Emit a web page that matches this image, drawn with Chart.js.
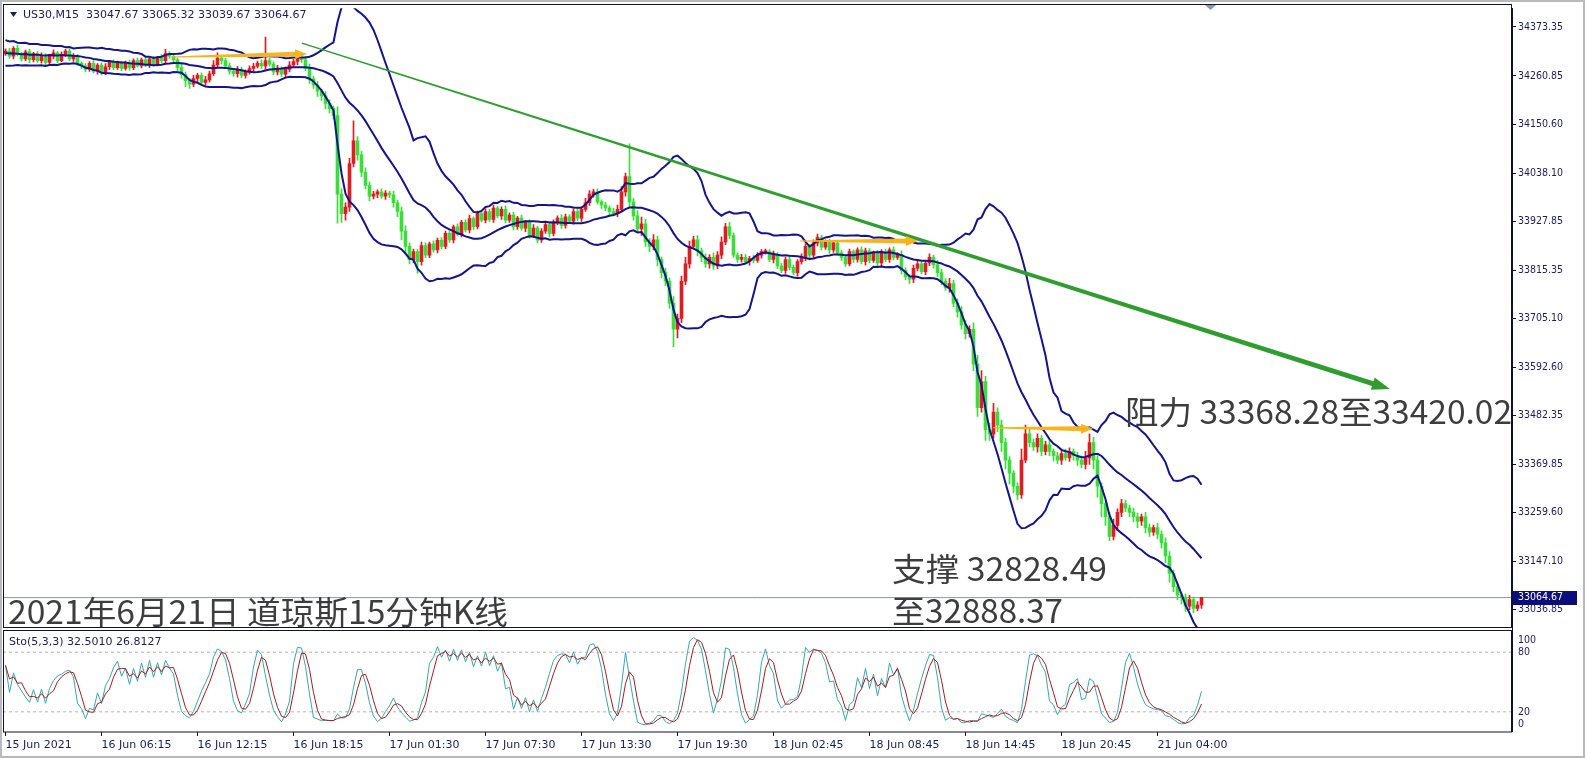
<!DOCTYPE html>
<html>
<head>
<meta charset="utf-8">
<script src="https://cdn.jsdelivr.net/npm/chart.js@4.4.1/dist/chart.umd.min.js"></script>
<style>
html, body { margin: 0; padding: 0; background: #fff; overflow: hidden; }
#box { position: relative; width: 1585px; height: 758px; }
</style>
</head>
<body>
<div id="box"><canvas id="chart" width="1585" height="758"></canvas></div>
<script>
// time axis: bar index of each label (M15 bars, 24 bars between labels)
const timeTicks = [0, 24, 48, 72, 96, 120, 144, 168, 192, 216, 240, 264, 288]
const timeLabels = ['15 Jun 2021', '16 Jun 06:15', '16 Jun 12:15', '16 Jun 18:15', '17 Jun 01:30', '17 Jun 07:30',
    '17 Jun 13:30', '17 Jun 19:30', '18 Jun 02:45', '18 Jun 08:45', '18 Jun 14:45', '18 Jun 20:45', '21 Jun 04:00']

// price axis labels as printed by the terminal
const priceTicks = [34373.35, 34260.85, 34150.60, 34038.10, 33927.85, 33815.35, 33705.10,
    33592.60, 33482.35, 33369.85, 33259.60, 33147.10, 33036.85]

// closes of the 19 bars before the visible window (band warm-up only)
const preCloses = [34335, 34310, 34338, 34318, 34302, 34332, 34312, 34296, 34328, 34306,
    34290, 34326, 34300, 34292, 34330, 34304, 34326, 34298, 34312]

// US30 M15 closes (300 bars)
const closes = [
    34318, 34306, 34324, 34310, 34300, 34316, 34298, 34312, 34296, 34308,
    34292, 34306, 34314, 34296, 34310, 34318, 34300, 34306, 34290, 34284,
    34276, 34290, 34272, 34286, 34268, 34282, 34292, 34280, 34290, 34278,
    34292, 34280, 34296, 34284, 34298, 34286, 34300, 34288, 34302, 34296,
    34312, 34306, 34298, 34280, 34264, 34250, 34242, 34255, 34262, 34246,
    34252, 34266, 34286, 34302, 34296, 34284, 34272, 34266, 34275, 34262,
    34270, 34278, 34283, 34290, 34284, 34296, 34288, 34270, 34278, 34265,
    34276, 34286, 34294, 34302, 34298, 34278, 34254, 34240, 34226, 34215,
    34198, 34186, 34170, 33990, 33945, 33960, 34060, 34112, 34080, 34040,
    34010, 33985, 33990, 33995, 33985, 33992, 33988, 33970, 33950, 33905,
    33870, 33840, 33858, 33835, 33872, 33850, 33876, 33862, 33884, 33870,
    33900, 33885, 33915, 33898, 33925, 33908, 33934, 33915, 33945, 33930,
    33950, 33932, 33958, 33940, 33955, 33930, 33942, 33915, 33935, 33912,
    33925, 33895, 33912, 33885, 33905, 33920, 33900, 33925, 33935, 33918,
    33938, 33928, 33950, 33935, 33955, 33970, 33990, 33995, 33972, 33965,
    33958, 33950, 33945, 33955, 33995, 34030, 33972, 33940, 33910, 33922,
    33880, 33870, 33885, 33840, 33810, 33790, 33740, 33680, 33705, 33790,
    33830, 33870, 33885, 33860, 33845, 33830, 33845, 33825, 33850, 33880,
    33915, 33895, 33850, 33840, 33845, 33835, 33842, 33838, 33850, 33858,
    33858, 33840, 33852, 33825, 33815, 33840, 33822, 33810, 33835, 33845,
    33870, 33850, 33878, 33890, 33868, 33880, 33862, 33878, 33855, 33845,
    33830, 33858, 33840, 33862, 33835, 33860, 33838, 33855, 33832, 33858,
    33840, 33862, 33845, 33852, 33815, 33800, 33795, 33820, 33830, 33812,
    33832, 33845, 33828, 33810, 33790, 33775, 33785, 33740, 33720, 33690,
    33670, 33680, 33600, 33500, 33560, 33450, 33440, 33490, 33460, 33420,
    33380, 33350, 33320, 33300, 33380, 33440, 33420, 33410, 33430, 33400,
    33415, 33400, 33390, 33380, 33395, 33385, 33400, 33390, 33380, 33370,
    33385, 33420, 33380, 33320, 33280, 33250, 33205, 33230, 33260, 33280,
    33270, 33260, 33250, 33240, 33250, 33225, 33215, 33225, 33210, 33190,
    33160, 33120, 33090, 33070, 33065, 33045, 33060, 33040, 33047.67, 33064.67,
]

// upper / lower shadow length of each bar, in points
const upWick = [
    5, 6, 4, 7, 5, 4, 6, 3, 5, 6,
    4, 5, 7, 3, 6, 4, 5, 6, 4, 3,
    5, 4, 6, 3, 5, 7, 4, 6, 5, 4,
    3, 5, 4, 6, 4, 5, 3, 6, 4, 8,
    10, 5, 6, 4, 8, 6, 5, 7, 5, 6,
    8, 6, 10, 12, 6, 5, 7, 4, 8, 6,
    5, 6, 7, 5, 8, 54, 6, 5, 7, 4,
    6, 8, 5, 7, 6, 8, 10, 6, 8, 5,
    10, 8, 6, 20, 12, 10, 12, 46, 10, 8,
    10, 8, 6, 5, 7, 6, 5, 8, 6, 10,
    12, 8, 6, 5, 8, 6, 4, 7, 5, 6,
    5, 6, 4, 7, 5, 6, 8, 4, 6, 5,
    6, 5, 7, 4, 6, 8, 5, 6, 4, 7,
    5, 6, 8, 4, 6, 5, 7, 6, 5, 8,
    6, 5, 7, 8, 6, 10, 8, 6, 7, 5,
    6, 5, 8, 10, 12, 8, 75, 8, 12, 15,
    10, 8, 12, 8, 6, 10, 8, 15, 10, 12,
    15, 12, 8, 10, 6, 8, 6, 10, 8, 12,
    8, 10, 6, 5, 7, 6, 5, 8, 6, 5,
    6, 5, 7, 4, 6, 5, 7, 6, 5, 8,
    6, 5, 7, 8, 6, 5, 7, 6, 5, 6,
    5, 6, 4, 5, 7, 6, 5, 4, 6, 5,
    6, 5, 7, 4, 8, 6, 5, 7, 6, 5,
    6, 8, 5, 10, 8, 6, 12, 8, 10, 12,
    10, 8, 15, 20, 25, 12, 15, 20, 10, 12,
    10, 8, 6, 8, 25, 20, 12, 8, 10, 6,
    8, 10, 6, 8, 6, 10, 8, 6, 8, 10,
    15, 20, 12, 10, 8, 6, 10, 15, 8, 10,
    8, 6, 10, 8, 6, 10, 8, 6, 10, 8,
    12, 10, 8, 6, 5, 8, 10, 6, 8, 0.65,
]
const downWick = [
    4, 5, 6, 3, 5, 4, 7, 5, 4, 6,
    5, 4, 6, 5, 3, 5, 4, 6, 5, 7,
    6, 5, 4, 7, 5, 4, 6, 5, 4, 5,
    4, 6, 5, 3, 5, 4, 6, 5, 4, 5,
    6, 5, 8, 10, 8, 14, 10, 6, 8, 7,
    6, 5, 4, 6, 8, 5, 7, 6, 8, 5,
    6, 5, 7, 4, 6, 8, 5, 6, 7, 5,
    8, 6, 5, 7, 6, 5, 10, 8, 12, 10,
    12, 10, 8, 67, 20, 15, 10, 8, 12, 10,
    8, 10, 6, 8, 5, 7, 6, 10, 12, 20,
    15, 10, 8, 27, 8, 6, 6, 5, 7, 6,
    5, 6, 7, 4, 6, 5, 7, 6, 5, 4,
    6, 5, 7, 4, 8, 6, 5, 7, 6, 5,
    8, 6, 5, 7, 6, 5, 8, 6, 5, 7,
    6, 5, 7, 6, 8, 5, 6, 7, 5, 8,
    6, 8, 5, 7, 6, 10, 12, 10, 8, 15,
    10, 12, 8, 15, 12, 10, 12, 40, 20, 10,
    8, 10, 6, 12, 10, 8, 10, 8, 6, 8,
    6, 8, 5, 7, 6, 5, 8, 6, 5, 7,
    6, 5, 8, 6, 5, 7, 6, 5, 8, 6,
    8, 6, 5, 7, 6, 5, 8, 6, 5, 7,
    6, 5, 7, 6, 5, 8, 6, 5, 7, 6,
    5, 7, 6, 5, 8, 6, 10, 8, 6, 5,
    7, 6, 8, 10, 8, 6, 10, 8, 12, 10,
    12, 8, 15, 20, 10, 25, 15, 10, 15, 20,
    20, 25, 15, 10, 8, 6, 10, 8, 12, 10,
    8, 10, 12, 8, 10, 6, 8, 10, 12, 8,
    10, 15, 20, 25, 30, 20, 10, 8, 12, 10,
    8, 10, 12, 15, 10, 12, 10, 8, 10, 12,
    15, 20, 12, 10, 15, 12, 8, 10, 6, 8,
]

const lastPrice = 33064.67
const stochLevels = [80, 20]
const stochLabels = [100, 80, 20, 0]

// hand-drawn objects, in [bar index, price]
const trendArrow = [[74.1, 34336.2], [346.1, 33542.9]]
const orangeArrows = [
    [[41.6, 34304.3], [75.4, 34311.1]],
    [[198.6, 33882.6], [228.1, 33882.6]],
    [[246.9, 33454.0], [271.9, 33451.7]],
]

// ---- derived series ----
const opens = closes.map((c, i) => i === 0 ? preCloses[preCloses.length - 1] : closes[i - 1])
const highs = closes.map((c, i) => Math.max(opens[i], c) + upWick[i])
const lows = closes.map((c, i) => Math.min(opens[i], c) - downWick[i])

const BULL = '#de1c22'
const BEAR = '#3cdc3c'
const candleColors = closes.map((c, i) => c >= opens[i] ? BULL : BEAR)

// Bollinger(20, 2) on close
const allCloses = preCloses.concat(closes)
let bbMid = [], bbUp = [], bbLo = []
closes.forEach((c, i) => {
    let win = allCloses.slice(i, i + 20)
    let m = win.reduce((a, b) => a + b, 0) / win.length
    let sd = Math.sqrt(win.reduce((a, b) => a + (b - m) * (b - m), 0) / win.length)
    bbMid.push({x: i, y: m})
    bbUp.push({x: i, y: m + 2 * sd})
    bbLo.push({x: i, y: m - 2 * sd})
})

// Stochastic(5,3,3), terminal style slowing
let stK = [], stD = []
closes.forEach((c, i) => {
    let num = 0, den = 0
    for (let j = Math.max(0, i - 2); j <= i; j++) {
        let a = Math.max(0, j - 4)
        let hh = Math.max(...highs.slice(a, j + 1))
        let ll = Math.min(...lows.slice(a, j + 1))
        num += closes[j] - ll
        den += hh - ll
    }
    stK.push(den ? num / den * 100 : 50)
})
stK.forEach((k, i) => {
    let w = stK.slice(Math.max(0, i - 2), i + 1)
    stD.push(w.reduce((a, b) => a + b, 0) / w.length)
})

const X_MIN = -0.625
const X_MAX = 376.625

const axisFont = {family: "'DejaVu Sans Condensed', 'Liberation Sans', sans-serif", size: 10.5}
const labelFont = "11px 'DejaVu Sans', sans-serif"
const NAVY_TEXT = '#1b1b5e'

function taperArrow(ctx, x0, y0, x1, y1, w0, w1, headL, headW, color) {
    const dx = x1 - x0, dy = y1 - y0, len = Math.hypot(dx, dy)
    const ux = dx / len, uy = dy / len, nx = -uy, ny = ux
    const bx = x1 - ux * headL, by = y1 - uy * headL
    ctx.beginPath()
    ctx.moveTo(x0 + nx * w0 / 2, y0 + ny * w0 / 2)
    ctx.lineTo(bx + nx * w1 / 2, by + ny * w1 / 2)
    ctx.lineTo(bx + nx * headW / 2, by + ny * headW / 2)
    ctx.lineTo(x1, y1)
    ctx.lineTo(bx - nx * headW / 2, by - ny * headW / 2)
    ctx.lineTo(bx - nx * w1 / 2, by - ny * w1 / 2)
    ctx.lineTo(x0 - nx * w0 / 2, y0 - ny * w0 / 2)
    ctx.closePath()
    ctx.fillStyle = color
    ctx.fill()
}

function fitText(ctx, text, x, y, width) {
    let w = ctx.measureText(text).width
    ctx.save()
    ctx.translate(x, y)
    ctx.scale(width / w, 1)
    ctx.fillText(text, 0, 0)
    ctx.restore()
}

const drawings = {
    id: 'drawings',
    afterDatasetsDraw(chart) {
        const ctx = chart.ctx
        const xs = chart.scales.x, ys = chart.scales.y
        const px = p => [xs.getPixelForValue(p[0]), ys.getPixelForValue(p[1])]
        ctx.save()
        let [a0, a1] = [px(trendArrow[0]), px(trendArrow[1])]
        taperArrow(ctx, a0[0], a0[1], a1[0], a1[1], 1.4, 5, 18, 13, '#2f9e2f')
        orangeArrows.forEach(([s, e]) => {
            let [p0, p1] = [px(s), px(e)]
            taperArrow(ctx, p0[0], p0[1], p1[0], p1[1], 1, 5, 12, 10, '#f8b41c')
        })
        ctx.restore()
    },
    afterDraw(chart) {
        const ctx = chart.ctx
        const area = chart.chartArea
        const ys = chart.scales.y, yst = chart.scales.ys
        ctx.save()

        // gap between the two panels
        ctx.fillStyle = '#fff'
        ctx.fillRect(area.left, 628, area.right - area.left, 3)

        // panel frames
        ctx.strokeStyle = '#101030'
        ctx.lineWidth = 1
        ctx.strokeRect(3.5, 4.5, area.right - 4, 623)
        ctx.strokeRect(3.5, 630.5, area.right - 4, 101.5)

        // window frame
        ctx.strokeStyle = '#b9b9b9'
        ctx.lineWidth = 2
        ctx.strokeRect(1, 1, 1583, 756)

        // header
        ctx.fillStyle = NAVY_TEXT
        ctx.beginPath()
        ctx.moveTo(10, 12); ctx.lineTo(17, 12); ctx.lineTo(13.5, 17); ctx.closePath()
        ctx.fill()
        ctx.font = labelFont
        ctx.textBaseline = 'middle'
        ctx.textAlign = 'left'
        ctx.fillText('US30,M15  33047.67 33065.32 33039.67 33064.67', 23, 15)
        ctx.fillText('Sto(5,3,3) 32.5010 26.8127', 9, 642)

        // chart shift marker
        ctx.fillStyle = '#8a98a8'
        ctx.beginPath()
        ctx.moveTo(1205, 5); ctx.lineTo(1216, 5); ctx.lineTo(1210.5, 10); ctx.closePath()
        ctx.fill()

        // stochastic scale labels
        ctx.font = axisFont.size + 'px ' + axisFont.family
        ctx.fillStyle = NAVY_TEXT
        const stochOffsets = {100: 8, 80: 0, 20: 0, 0: -7}
        stochLabels.forEach(v => {
            ctx.fillText(String(v), 1518, yst.getPixelForValue(v) + stochOffsets[v])
        })

        // last price tag
        let ly = ys.getPixelForValue(lastPrice)
        ctx.fillStyle = '#0c0c7a'
        ctx.fillRect(1513, Math.round(ly) - 7, 64, 14)
        ctx.fillStyle = '#fff'
        ctx.fillText(lastPrice.toFixed(2), 1518, ly)

        // annotations
        ctx.fillStyle = '#3d3d3d'
        ctx.font = "32px 'Noto Sans CJK SC', sans-serif"
        fitText(ctx, '阻力 33368.28至33420.02', 1125, 412, 387)
        fitText(ctx, '支撑 32828.49', 892, 569, 215)
        fitText(ctx, '至32888.37', 892, 611, 171)
        fitText(ctx, '2021年6月21日 道琼斯15分钟K线', 8, 612, 500)
        ctx.restore()
    },
}

const wickData = closes.map((c, i) => ({x: i, y: [lows[i], highs[i]]}))
const bodyData = closes.map((c, i) => ({x: i, y: [opens[i], c]}))
const levelLine = v => [{x: X_MIN, y: v}, {x: X_MAX, y: v}]

const lineBase = {type: 'line', pointRadius: 0, tension: 0, fill: false}

new Chart(document.getElementById('chart'), {
    type: 'bar',
    data: {
        datasets: [
            {...lineBase, data: bbUp, borderColor: '#14148e', borderWidth: 2, yAxisID: 'y', order: 3},
            {...lineBase, data: bbMid, borderColor: '#14148e', borderWidth: 2, yAxisID: 'y', order: 3},
            {...lineBase, data: bbLo, borderColor: '#14148e', borderWidth: 2, yAxisID: 'y', order: 3},
            {type: 'bar', data: bodyData, backgroundColor: candleColors, barThickness: 3, minBarLength: 1,
                grouped: false, yAxisID: 'y', order: 5},
            {type: 'bar', data: wickData, backgroundColor: candleColors, barThickness: 1,
                grouped: false, yAxisID: 'y', order: 6},
            {...lineBase, data: levelLine(lastPrice), borderColor: '#8a96a3', borderWidth: 1, yAxisID: 'y', order: 8},
            {...lineBase, data: stD.map((v, i) => ({x: i, y: v})), borderColor: '#a81c1c', borderWidth: 1, yAxisID: 'ys', order: 1},
            {...lineBase, data: stK.map((v, i) => ({x: i, y: v})), borderColor: '#35a9a9', borderWidth: 1, yAxisID: 'ys', order: 2},
            ...stochLevels.map(v => ({...lineBase, data: levelLine(v), borderColor: '#b4b4b4', borderWidth: 1,
                borderDash: [3, 3], yAxisID: 'ys', order: 9})),
        ],
    },
    options: {
        responsive: false,
        animation: false,
        events: [],
        layout: {padding: {left: 3, top: 4, right: 0, bottom: 0}},
        plugins: {legend: {display: false}, tooltip: {enabled: false}},
        scales: {
            x: {
                type: 'linear', position: 'bottom', min: X_MIN, max: X_MAX, offset: false,
                afterBuildTicks: s => { s.ticks = timeTicks.map(v => ({value: v})) },
                afterFit: s => { s.height = 26 },
                grid: {drawOnChartArea: false, offset: false, tickLength: 4, color: '#101030'},
                border: {display: false},
                ticks: {
                    autoSkip: false, maxRotation: 0, align: 'start', padding: 3, color: NAVY_TEXT,
                    font: {family: "'DejaVu Sans', sans-serif", size: 11},
                    callback: v => timeLabels[timeTicks.indexOf(v)],
                },
            },
            y: {
                type: 'linear', position: 'right', stack: 'panels', stackWeight: 624,
                min: 32993.57, max: 34415.98,
                afterBuildTicks: s => { s.ticks = priceTicks.map(v => ({value: v})) },
                afterFit: s => { s.width = 73 },
                grid: {drawOnChartArea: false, tickLength: 4, color: '#101030'},
                border: {display: true, color: '#101030'},
                ticks: {autoSkip: false, padding: 2, color: NAVY_TEXT, font: axisFont, callback: v => v.toFixed(2)},
            },
            ys: {
                type: 'linear', position: 'right', stack: 'panels', stackWeight: 104,
                min: -0.3, max: 103.7,
                afterFit: s => { s.width = 73 },
                grid: {drawOnChartArea: false, drawTicks: false},
                border: {display: true, color: '#101030'},
                ticks: {display: false},
            },
        },
    },
    plugins: [drawings],
})
</script>
</body>
</html>
